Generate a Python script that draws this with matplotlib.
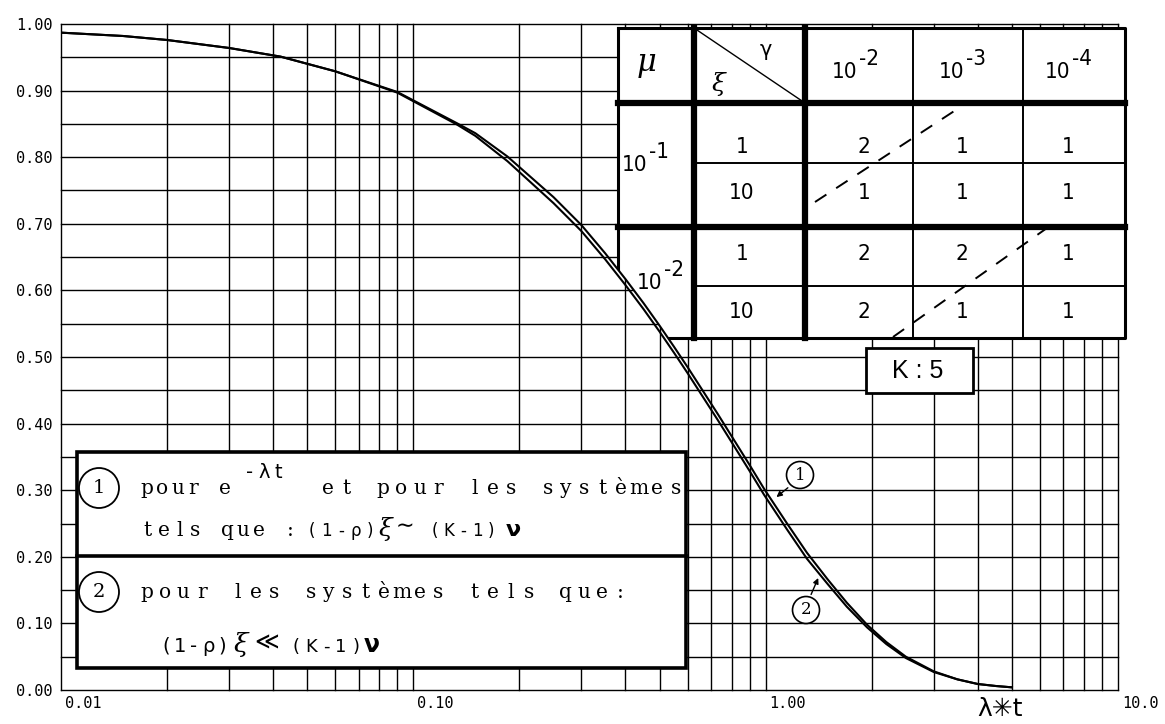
import numpy as np
import matplotlib
matplotlib.use('Agg')
import matplotlib.pyplot as plt
from matplotlib import transforms, font_manager
from matplotlib.patches import Rectangle, Circle
from matplotlib.lines import Line2D
from matplotlib.path import Path
from matplotlib.ticker import NullLocator

W, H = 1165, 724

# survival curves read at these values of lambda*t
lam_t = [0.01, 0.015, 0.02, 0.03, 0.042, 0.06, 0.09, 0.133, 0.15, 0.185, 0.25, 0.30, 0.35,
         0.40, 0.45, 0.50, 0.55, 0.60, 0.66, 0.73, 0.79, 0.90, 0.99, 1.15, 1.31, 1.5, 1.7,
         1.94, 2.2, 2.5, 3.0, 3.5, 4.0, 4.5, 5.0]
curve_1 = [0.987, 0.982, 0.976, 0.964, 0.951, 0.929, 0.898, 0.851, 0.836, 0.801, 0.740, 0.698,
           0.656, 0.617, 0.581, 0.547, 0.515, 0.485, 0.451, 0.415, 0.386, 0.338, 0.302, 0.250,
           0.206, 0.166, 0.131, 0.098, 0.072, 0.050, 0.028, 0.016, 0.009, 0.006, 0.004]
curve_2 = [0.987, 0.982, 0.976, 0.964, 0.951, 0.929, 0.897, 0.849, 0.832, 0.794, 0.731, 0.689,
           0.647, 0.608, 0.572, 0.538, 0.506, 0.476, 0.442, 0.406, 0.377, 0.329, 0.293, 0.241,
           0.197, 0.159, 0.125, 0.094, 0.069, 0.048, 0.027, 0.016, 0.009, 0.006, 0.004]

y_ticks = [0.0, 0.1, 0.2, 0.3, 0.4, 0.5, 0.6, 0.7, 0.8, 0.9, 1.0]
x_ticks = [0.01, 0.1, 1.0, 10.0]
x_tick_labels = ['0.01', '0.10', '1.00', '10.0']

# which curve applies, by mu / xi (rows) and gamma (columns)
gamma_exp = ['-2', '-3', '-4']
mu_exp = ['-1', '-2']
xi_rows = ['1', '10', '1', '10']
case_table = [[2, 1, 1],
              [1, 1, 1],
              [2, 2, 1],
              [2, 1, 1]]
K = 5

names = {f.name for f in font_manager.fontManager.ttflist}
if 'Liberation Sans Narrow' in names:
    NARROW = dict(family='Liberation Sans Narrow')
else:
    NARROW = dict(family='DejaVu Sans', stretch='condensed')
SERIF = 'DejaVu Serif'
MONO = 'DejaVu Sans Mono'

fig = plt.figure(figsize=(W / 100, H / 100), dpi=100)
fig.patch.set_facecolor('white')
ax = fig.add_axes([61 / W, 1 - 690 / H, (1118 - 61) / W, 666 / H])
ax.set_xscale('log')
ax.set_autoscale_on(False)
ax.set_xlim(0.01, 10)
ax.set_ylim(0, 1)
for s in ax.spines.values():
    s.set_visible(False)
ax.xaxis.set_major_locator(NullLocator())
ax.xaxis.set_minor_locator(NullLocator())

# pixel coordinates, origin top left
px = transforms.Affine2D().scale(1, -1).translate(0, H)

# grid
for v in np.arange(0, 1.001, 0.05):
    ax.axhline(v, color='black', lw=1.0, zorder=1, clip_on=False)
for dec in (0.01, 0.1, 1.0):
    for k in range(1, 10):
        ax.axvline(k * dec, color='black', lw=1.0, zorder=1, clip_on=False)
ax.axvline(10, color='black', lw=1.0, zorder=1, clip_on=False)

ax.plot(lam_t, curve_1, color='black', lw=1.5, zorder=5, solid_joinstyle='round')
ax.plot(lam_t, curve_2, color='black', lw=1.5, zorder=5, solid_joinstyle='round')

ax.set_yticks(y_ticks)
ax.set_yticklabels([f'{v:.2f}' for v in y_ticks], family=MONO, fontsize=11)
ax.tick_params(axis='y', length=0, pad=6)

xlab_tr = transforms.offset_copy(transforms.blended_transform_factory(ax.transData, px),
                                 fig, x=4, units='dots')
for v, s in zip(x_ticks, x_tick_labels):
    ax.text(v, 703, s, transform=xlab_tr, ha='left', va='center', family=MONO, fontsize=11)
ax.text(1000, 709, 'λ✳t', transform=px, ha='center', va='center', fontsize=18,
        family='DejaVu Sans')

# the table only covers the area above the curves
above = [(1e-3, 2.0), (1e-3, curve_1[0])] + list(zip(lam_t, curve_1)) + \
        [(100, curve_1[-1]), (100, 2.0), (1e-3, 2.0)]
clip = Path(np.array(above))


def tline(xs, ys, lw, **kw):
    ln = Line2D(xs, ys, transform=px, color='black', lw=lw, zorder=4,
                solid_capstyle='projecting', **kw)
    ln.set_clip_path(clip, ax.transData)
    ax.add_artist(ln)


TX = [618, 694, 805, 913, 1023, 1125]
TY = [28, 103, 163, 227, 286, 338]

bg = Rectangle((TX[0], TY[0]), TX[-1] - TX[0], TY[-1] - TY[0], transform=px,
               fc='white', ec='none', zorder=3)
bg.set_clip_path(clip, ax.transData)
ax.add_artist(bg)

tline([TX[0], TX[-1], TX[-1], TX[0], TX[0]], [TY[0], TY[0], TY[-1], TY[-1], TY[0]], 2.2)
for y in (TY[1], TY[3]):
    tline([TX[0], TX[-1]], [y, y], 4.5)
for x in (TX[1], TX[2]):
    tline([x, x], [TY[0], TY[-1]], 4.5)
for x in (TX[3], TX[4]):
    tline([x, x], [TY[0], TY[-1]], 1.4)
for y in (TY[2], TY[4]):
    tline([TX[1], TX[-1]], [y, y], 1.4)
tline([TX[1], TX[2]], [TY[0], TY[1]], 1.0)
tline([815, 965], [202, 104], 1.4, ls=(0, (7, 6)))
tline([893, 1047], [337, 228], 1.4, ls=(0, (7, 6)))

tkw = dict(transform=px, ha='center', va='center', zorder=7)


def pow10(x, y, e):
    ax.text(x + 2, y, '10', transform=px, ha='right', va='center', zorder=7,
            fontsize=16, **NARROW)
    ax.text(x + 4, y - 13, e, transform=px, ha='left', va='center', zorder=7,
            fontsize=16, **NARROW)


ax.text(647, 62, 'μ', fontsize=22, family=SERIF, style='italic', **tkw)
ax.text(766, 50, 'γ', fontsize=15, family='DejaVu Sans', **tkw)
ax.text(718, 84, 'ξ', fontsize=18, family=SERIF, style='italic', **tkw)
for x, e in zip([855, 962, 1068], gamma_exp):
    pow10(x, 72, e)
pow10(645, 165, mu_exp[0])
pow10(660, 283, mu_exp[1])
row_y = [147, 193, 254, 312]
for y, xi, cases in zip(row_y, xi_rows, case_table):
    ax.text(742, y, xi, fontsize=16, **NARROW, **tkw)
    for x, c in zip([864, 962, 1068], cases):
        ax.text(x, y, str(c), fontsize=16, **NARROW, **tkw)

ax.add_artist(Rectangle((866, 348), 107, 45, transform=px, fc='white', ec='black',
                        lw=2.0, zorder=6, clip_on=False))
ax.text(918, 371, f'K : {K}', fontsize=18, family='Liberation Sans', **tkw)

# curve tags
for (cx, cy), lab, tip in [((800, 475), '1', (1.058, 0.287)), ((806, 610), '2', (1.42, 0.172))]:
    ax.add_artist(Circle((cx, cy), 13.5, transform=px, fc='white', ec='black', lw=1.2,
                         zorder=6, clip_on=False))
    ax.text(cx, cy, lab, fontsize=12, family=SERIF, **tkw)
    ax.annotate('', xy=tip, xycoords='data',
                xytext=(cx - 10 if lab == '1' else cx + 4, cy + 11 if lab == '1' else cy - 13),
                textcoords=px,
                arrowprops=dict(arrowstyle='-|>', lw=1.0, color='black', mutation_scale=8),
                zorder=6)

# explanation box
ax.add_artist(Rectangle((77, 452), 609, 216, transform=px, fc='white', ec='black',
                        lw=2.6, zorder=6, clip_on=False))
ax.add_artist(Line2D([77, 686], [556, 556], transform=px, color='black', lw=2.6, zorder=6))
for cy, lab in [(488, '1'), (592, '2')]:
    ax.add_artist(Circle((99, cy), 20, transform=px, fc='none', ec='black', lw=1.3,
                         zorder=7, clip_on=False))
    ax.text(99, cy, lab, fontsize=14, family=SERIF, **tkw)


def typed(x, y, s, pitch, size=14.5, family=SERIF, **kw):
    for i, ch in enumerate(s):
        if ch != ' ':
            ax.text(x + i * pitch, y, ch, transform=px, ha='center', va='baseline',
                    fontsize=size, family=family, zorder=7, **kw)


def glyph(x, y, ch, size, **kw):
    ax.text(x, y, ch, transform=px, ha='center', va='baseline', fontsize=size,
            zorder=7, **kw)


typed(147, 494, 'pour e', 15.5)
typed(250, 478, '-λt', 14, size=14, family='DejaVu Sans')
typed(328, 494, 'et pour les systèmes', 18.3)
typed(148, 536, 'tels que :', 15.8)
typed(312, 536, '(1-ρ)', 14.5, size=12, family='DejaVu Sans')
glyph(385, 536, 'ξ', 18, family=SERIF, style='italic')
glyph(405, 532, '∼', 16)
typed(435, 536, '(K-1)', 14, size=12, family='DejaVu Sans')
glyph(513, 536, 'ν', 16, weight='bold')
typed(147, 598, 'pour les systèmes tels que:', 18.2)
typed(166, 652, '(1-ρ)', 14, size=14, family='DejaVu Sans')
glyph(241, 652, 'ξ', 19, family=SERIF, style='italic')
glyph(267, 650, '≪', 17)
typed(296, 652, '(K-1)', 15, size=13, family='DejaVu Sans')
glyph(372, 652, 'ν', 17, weight='bold')

fig.savefig('out.png', dpi=100, facecolor='white')
